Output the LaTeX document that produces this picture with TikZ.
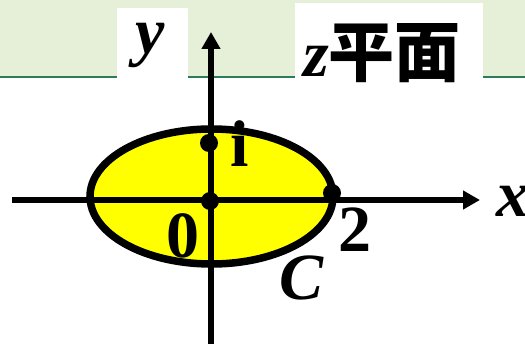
\documentclass[tikz,border=0pt]{standalone}
\usepackage{fontspec}
\setmainfont{Liberation Serif}
\newfontfamily\cjkfont{Noto Sans CJK SC}
\usetikzlibrary{arrows.meta,positioning}
\definecolor{Band}{HTML}{E6F0D9}
\definecolor{Rule}{HTML}{2E7B5C}
\definecolor{Disc}{HTML}{FFFF00}
\newcommand{\bigbold}{\fontsize{66}{70}\selectfont\bfseries}
\tikzset{
  axis/.style={-{Triangle[length=17pt,width=18pt]},line width=5.5pt,draw=black},
  contour/.style={line width=7.5pt,draw=black,fill=Disc},
  dot/.style={circle,fill=black,inner sep=0pt,minimum size=18pt},
  numlab/.style={font=\bigbold,inner sep=0pt,anchor=base},
  varlab/.style={font=\bigbold\itshape,inner sep=0pt,anchor=base}
}

\begin{document}
\begin{tikzpicture}[x=1pt,y=-1pt]
  \useasboundingbox (0,0) rectangle (525,344);
  % title band
  \fill[Band] (0,0) rectangle (525,77);
  \draw[Rule,line width=2.5pt] (0,77) -- (525,77);
  \fill[white] (117,8) rectangle (188,80);
  \fill[white] (295,3) rectangle (483,80);
  \node[varlab] (ylab) at (150,54) {y};
  \node[varlab,anchor=base west] (plane) at (303,77) {z{\cjkfont\upshape 平面}};
  % contour C
  \draw[contour] (211.5,196.5) ellipse [x radius=121.5pt,y radius=67.5pt];
  % axes
  \coordinate (xs) at (12,200);
  \coordinate (xe) at (480,200);
  \coordinate (ys) at (211,344);
  \coordinate (ye) at (211,32);
  \draw[axis] (xs) -- (xe);
  \draw[axis] (ys) -- (ye);
  \node[varlab,anchor=base west] (xlab) at (496,217) {x};
  % points
  \node[dot] (O) at (210,201) {};
  \node[dot] (I) at (209,143) {};
  \node[dot] (T) at (332,193) {};
  \node[numlab] (Olab) at (183,258) {0};
  \node[numlab] (Ilab) at (240,167) {i};
  \node[numlab] (Tlab) at (355,252) {2};
  \node[varlab] (Clab) at (302,300) {C};
\end{tikzpicture}
\end{document}
